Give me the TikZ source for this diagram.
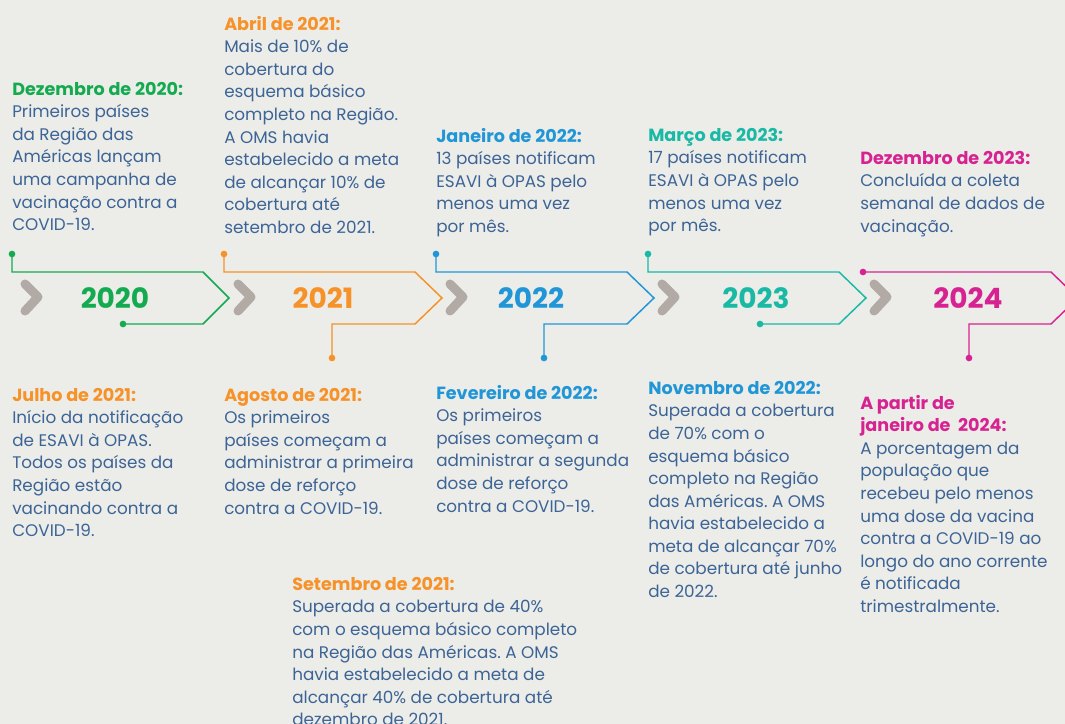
\documentclass[tikz,border=0pt]{standalone}
\usepackage{fontspec}
\setmainfont{Poppins}
\usetikzlibrary{positioning}
\frenchspacing

\definecolor{bg}{RGB}{236,236,232}
\definecolor{ink}{RGB}{60,100,150}
\definecolor{chevgrey}{RGB}{178,170,165}
\definecolor{c20}{RGB}{20,170,80}
\definecolor{c21}{RGB}{246,146,40}
\definecolor{c22}{RGB}{33,150,215}
\definecolor{c23}{RGB}{25,185,165}
\definecolor{c24}{RGB}{215,35,145}

\newcommand{\hd}[2]{{\fontsize{13.2}{16.9}\selectfont\bfseries\color{#1}#2}}

\begin{document}
\begin{tikzpicture}[x=0.75pt, y=-0.75pt,
    txt/.style={anchor=north west, inner sep=0pt, align=left, text=ink,
      font=\fontsize{12.6}{16.9}\selectfont},
    yr/.style={font=\fontsize{21}{21}\selectfont\bfseries},
    dot/.style={circle, fill, inner sep=0pt, minimum size=5pt},
    chev/.style={draw=chevgrey, line width=6.75pt, line cap=round, line join=round},
    frame/.style={line width=1.1pt}]
    \useasboundingbox (0,0) rectangle (1065,724);
    \clip (0,0) rectangle (1065,724);
    \fill[bg] (0,0) rectangle (1065,724);

    % grey chevrons between the years
    \foreach \x in {31,244,456,668,880}
      \draw[chev] ({\x-6},284) -- ({\x+7},297) -- ({\x-6},311);

    % years
    \node[yr, text=c20] (y20) at (115,298) {2020};
    \node[yr, text=c21] (y21) at (323,298) {2021};
    \node[yr, text=c22] (y22) at (531,298) {2022};
    \node[yr, text=c23] (y23) at (756,298) {2023};
    \node[yr, text=c24] (y24) at (968,298) {2024};

    % end dots of the frames
    \node[dot, c20] (t20) at (12,254) {};
    \node[dot, c20] (b20) at (123,324) {};
    \node[dot, c21] (t21) at (224,254) {};
    \node[dot, c21] (b21) at (332,358) {};
    \node[dot, c22] (t22) at (436,254) {};
    \node[dot, c22] (b22) at (544,358) {};
    \node[dot, c23] (t23) at (648,254) {};
    \node[dot, c23] (b23) at (760,324) {};
    \node[dot, c24] (t24) at (863,272) {};
    \node[dot, c24] (b24) at (969,358) {};

    % frames
    \draw[frame, c20] (t20.center) |- (203,272) -- (229,298) -- (203,324) -- (b20.center);
    \draw[frame, c21] (t21.center) |- (415,272) -- (442,298) -- (415,324) -| (b21.center);
    \draw[frame, c22] (t22.center) |- (627,272) -- (654,298) -- (627,324) -| (b22.center);
    \draw[frame, c23] (t23.center) |- (839,272) -- (866,298) -- (839,324) -- (b23.center);
    \draw[frame, c24] (t24.center) -- (1051,272) -- (1078,298) -- (1051,324) -| (b24.center);

    % events above the line
    \node[txt] (dez20) at (12,82) {\hd{c20}{Dezembro de 2020:}\\
      Primeiros países\\da Região das\\Américas lançam\\uma campanha de\\
      vacinação contra a\\COVID-19.};
    \node[txt] (abr21) at (224,16) {\hd{c21}{Abril de 2021:}\\
      Mais de 10\% de\\cobertura do\\esquema básico\\completo na Região.\\
      A OMS havia\\estabelecido a meta\\de alcançar 10\% de\\cobertura até\\
      setembro de 2021.};
    \node[txt] (jan22) at (436,128) {\hd{c22}{Janeiro de 2022:}\\
      13 países notificam\\ESAVI à OPAS pelo\\menos uma vez\\por mês.};
    \node[txt] (mar23) at (648,128) {\hd{c23}{Março de 2023:}\\
      17 países notificam\\ESAVI à OPAS pelo\\menos uma vez\\por mês.};
    \node[txt] (dez23) at (860,151) {\hd{c24}{Dezembro de 2023:}\\
      Concluída a coleta\\semanal de dados de\\vacinação.};

    % events below the line
    \node[txt] (jul21) at (12,388) {\hd{c21}{Julho de 2021:}\\
      Início da notificação\\de ESAVI à OPAS.\\Todos os países da\\
      Região estão\\vacinando contra a\\COVID-19.};
    \node[txt] (ago21) at (224,388) {\hd{c21}{Agosto de 2021:}\\
      Os primeiros\\países começam a\\administrar a primeira\\
      dose de reforço\\contra a COVID-19.};
    \node[txt] (fev22) at (436,385) {\hd{c22}{Fevereiro de 2022:}\\
      Os primeiros\\países começam a\\administrar a segunda\\
      dose de reforço\\contra a COVID-19.};
    \node[txt] (nov22) at (648,381) {\hd{c22}{Novembro de 2022:}\\
      Superada a cobertura\\de 70\% com o\\esquema básico\\
      completo na Região\\das Américas. A OMS\\havia estabelecido a\\
      meta de alcançar 70\%\\de cobertura até junho\\de 2022.};
    \node[txt] (jan24) at (860,395) {\hd{c24}{A partir de}\\
      \hd{c24}{janeiro de\ \ 2024:}\\
      A porcentagem da\\população que\\recebeu pelo menos\\
      uma dose da vacina\\contra a COVID-19 ao\\longo do ano corrente\\
      é notificada\\trimestralmente.};
    \node[txt] (set21) at (292,577) {\hd{c21}{Setembro de 2021:}\\
      Superada a cobertura de 40\%\\com o esquema básico completo\\
      na Região das Américas. A OMS\\havia estabelecido a meta de\\
      alcançar 40\% de cobertura até\\dezembro de 2021.};
\end{tikzpicture}
\end{document}
